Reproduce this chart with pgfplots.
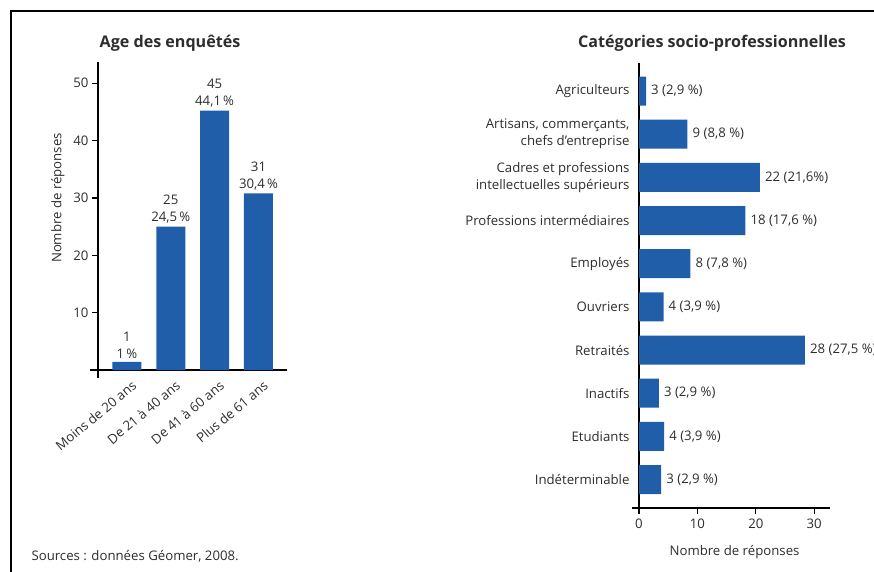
\documentclass[border=0pt]{standalone}
\usepackage{pgfplots}
\pgfplotsset{compat=1.18}
\usepackage{pgfplotstable}
\usepackage{fontspec}
\setmainfont{Open Sans}
\definecolor{barblue}{RGB}{32,94,170}
\definecolor{txt}{RGB}{45,45,45}
\newcommand{\lf}{\fontsize{13.2}{17}\selectfont}
\newcommand{\tf}{\bfseries\fontsize{16.1}{18}\selectfont}

\pgfplotstableread{
x y n p
0 1.4 1 1
1 25.0 25 24,5
2 45.2 45 44,1
3 30.8 31 30,4
}\agetab

\begin{document}
\begin{tikzpicture}[every node/.style={text=txt}]
\useasboundingbox (0,0) rectangle (874pt,571pt);
\draw[line width=1.8pt] (11pt,-2pt) -- (11pt,560pt) -- (880pt,560pt);
\node[anchor=west, font=\lf] at (28pt,15pt) {Sources : données Géomer, 2008.};
\node[font=\tf] at (170pt,528pt) {Age des enquêtés};
\node[font=\tf] at (712pt,528pt) {Catégories socio-professionnelles};
\node[rotate=90, font=\lf] at (58pt,373pt) {Nombre de réponses};

% ---------- left chart
\begin{axis}[
  at={(98pt,201pt)}, anchor=south west, scale only axis,
  width=189pt, height=308pt,
  xmin=-0.66, xmax=3.65, ymin=0, ymax=53.7,
  axis x line*=bottom, axis y line*=left, axis line style={draw=none},
  clip=false,
  ytick={10,20,30,40,50},
  xtick={0,1,2,3},
  xticklabels={Moins de 20 ans, De 21 à 40 ans, De 41 à 60 ans, Plus de 61 ans},
  x tick style={draw=none},
  y tick style={black, line width=1.3pt},
  tick align=outside, major tick length=6pt,
  /pgf/number format/assume math mode=true,
  ticklabel style={font=\lf, text=txt},
  xticklabel style={rotate=40, anchor=north east, inner sep=1pt, xshift=2pt, yshift=-4pt},
]
\draw[line width=1.7pt] (axis cs:-0.845,0) -- (axis cs:3.65,0);
\draw[line width=1.7pt] (axis cs:-0.66,-1.4) -- (axis cs:-0.66,53.7);
\addplot[ybar, bar width=29pt, fill=barblue, draw=none,
  point meta=explicit symbolic,
  visualization depends on={\thisrow{n} \as \cnt},
  nodes near coords={\pgfmathprintnumber[assume math mode=true]{\cnt}\\\pgfplotspointmeta\,\%},
  every node near coord/.append style={align=center, anchor=south, font=\lf, text=txt, inner sep=3pt},
] table[x=x, y=y, meta=p] {\agetab};
\end{axis}

% ---------- right chart
\begin{axis}[
  at={(639pt,63pt)}, anchor=south west, scale only axis,
  width=191pt, height=445pt,
  xmin=0, xmax=32.7, ymin=-0.66, ymax=9.65,
  axis x line*=bottom, axis y line*=left, axis line style={draw=none},
  clip=false,
  xtick={0,10,20,30},
  x tick style={black, line width=1.3pt},
  tick align=outside, major tick length=6pt,
  ytick={0,1,2,3,4,5,6,7,8,9},
  y tick style={draw=none},
  yticklabels={Indéterminable, Etudiants, Inactifs, Retraités, Ouvriers, Employés, Professions intermédiaires, {Cadres et professions\\intellectuelles supérieurs}, {Artisans, commerçants,\\chefs d'entreprise}, Agriculteurs},
  /pgf/number format/assume math mode=true,
  ticklabel style={font=\lf, text=txt},
  yticklabel style={align=right},
  xticklabel style={yshift=-1pt},
  xlabel={Nombre de réponses},
  xlabel style={font=\lf, text=txt, yshift=-10pt},
]
\draw[line width=1.7pt] (axis cs:-1.2,-0.66) -- (axis cs:32.7,-0.66);
\draw[line width=1.7pt] (axis cs:0,-0.66) -- (axis cs:0,9.65);
\addplot[xbar, bar width=29pt, fill=barblue, draw=none,
  point meta=explicit symbolic,
  nodes near coords,
  every node near coord/.append style={anchor=west, font=\lf, text=txt, inner sep=5pt},
] coordinates {
  (1.2,9) [{3 (2,9 \%)}]
  (8.3,8) [{9 (8,8 \%)}]
  (20.7,7) [{22 (21,6\%)}]
  (18.2,6) [{18 (17,6 \%)}]
  (8.8,5) [{8 (7,8 \%)}]
  (4.2,4) [{4 (3,9 \%)}]
  (28.4,3) [{28 (27,5 \%)}]
  (3.4,2) [{3 (2,9 \%)}]
  (4.3,1) [{4 (3,9 \%)}]
  (3.8,0) [{3 (2,9 \%)}]
};
\end{axis}
\end{tikzpicture}
\end{document}
